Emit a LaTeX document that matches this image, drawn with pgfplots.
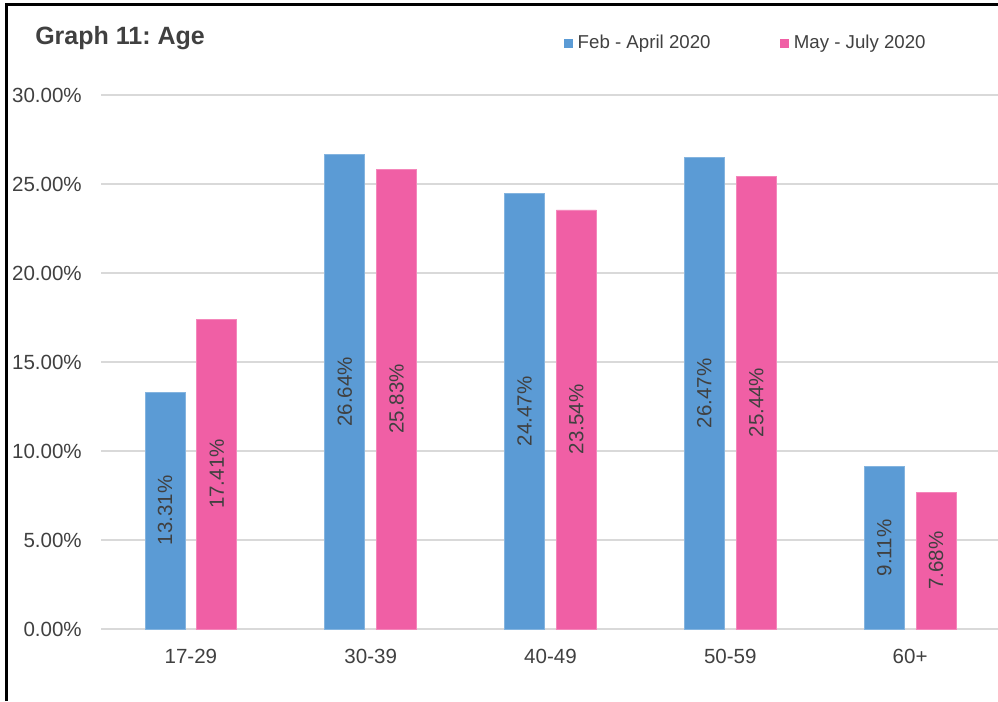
\documentclass[border=0pt]{standalone}
\usepackage{fontspec}
\setmainfont{Liberation Sans}
\usepackage{pgfplots}
\pgfplotsset{compat=1.18}
\frenchspacing

\definecolor{febblue}{HTML}{5B9BD5}
\definecolor{maypink}{HTML}{F05FA5}
\definecolor{gridgray}{HTML}{D9D9D9}
\definecolor{txtgray}{HTML}{404040}

\newcommand{\tickfont}{\fontsize{15.4}{18}\selectfont}
\newcommand{\legfont}{\fontsize{14}{16}\selectfont}

\begin{document}
\begin{tikzpicture}
% page frame (px * 0.75pt)
\path[use as bounding box] (0,0) rectangle (748.5pt,525.75pt);
\draw[black, line width=1.9pt] (5pt,0) -- (5pt,522.5pt) -- (748.5pt,522.5pt);

\node[anchor=base west, font=\fontsize{18.75}{22}\selectfont\bfseries, text=txtgray, inner sep=0pt]
  at (26.25pt,492pt) {Graph 11: Age};

\begin{axis}[
  at={(75.75pt,54pt)}, anchor=south west,
  scale only axis,
  width=674.25pt, height=400.5pt,
  ymin=0, ymax=30,
  xmin=-0.5, xmax=4.5,
  ytick={0,5,...,30},
  yticklabel={\pgfmathprintnumber[fixed,fixed zerofill,precision=2]{\tick}\%},
  /pgf/number format/assume math mode=true,
  xtick={0,1,2,3,4},
  xticklabels={17-29,30-39,40-49,50-59,60+},
  ymajorgrids,
  grid style={gridgray, line width=0.8pt},
  axis line style={draw=none},
  tick style={draw=none},
  yticklabel style={font=\tickfont, text=txtgray, anchor=east, inner sep=0pt, xshift=-14.25pt},
  xticklabel style={font=\tickfont, text=txtgray, anchor=north, inner sep=0pt, yshift=-10.5pt},
  ybar,
  bar width=0.222,
  clip=false,
  legend columns=2,
  legend style={
    draw=none, fill=none,
    at={(0.716,1.097)}, anchor=center,
    font=\legfont, text=txtgray,
    inner sep=0pt,
    nodes={inner sep=0pt},
    /tikz/every even column/.append style={column sep=52pt},
    /tikz/every odd column/.append style={column sep=3.75pt},
  },
  legend image code/.code={\fill[#1,draw=none] (0pt,-3.4pt) rectangle (6.75pt,3.4pt);},
  nodes near coords={\pgfmathprintnumber[fixed,fixed zerofill,precision=2]{\pgfplotspointmeta}\%},
  visualization depends on={0.5*rawy \as \halfy},
  every node near coord/.append style={
    font=\tickfont, text=txtgray, inner sep=0pt,
    shift={(axis direction cs:0,-\halfy)},
    rotate=90, anchor=center,
    /pgf/number format/assume math mode=true,
  },
]
\addplot+[bar shift=-0.144, fill=febblue, draw=febblue!75!white, line width=0.6pt]
  coordinates {(0,13.31) (1,26.64) (2,24.47) (3,26.47) (4,9.11)};
\addplot+[bar shift=0.144, fill=maypink, draw=maypink!75!white, line width=0.6pt]
  coordinates {(0,17.41) (1,25.83) (2,23.54) (3,25.44) (4,7.68)};
\legend{Feb - April 2020, May - July 2020}
\end{axis}
\end{tikzpicture}
\end{document}
